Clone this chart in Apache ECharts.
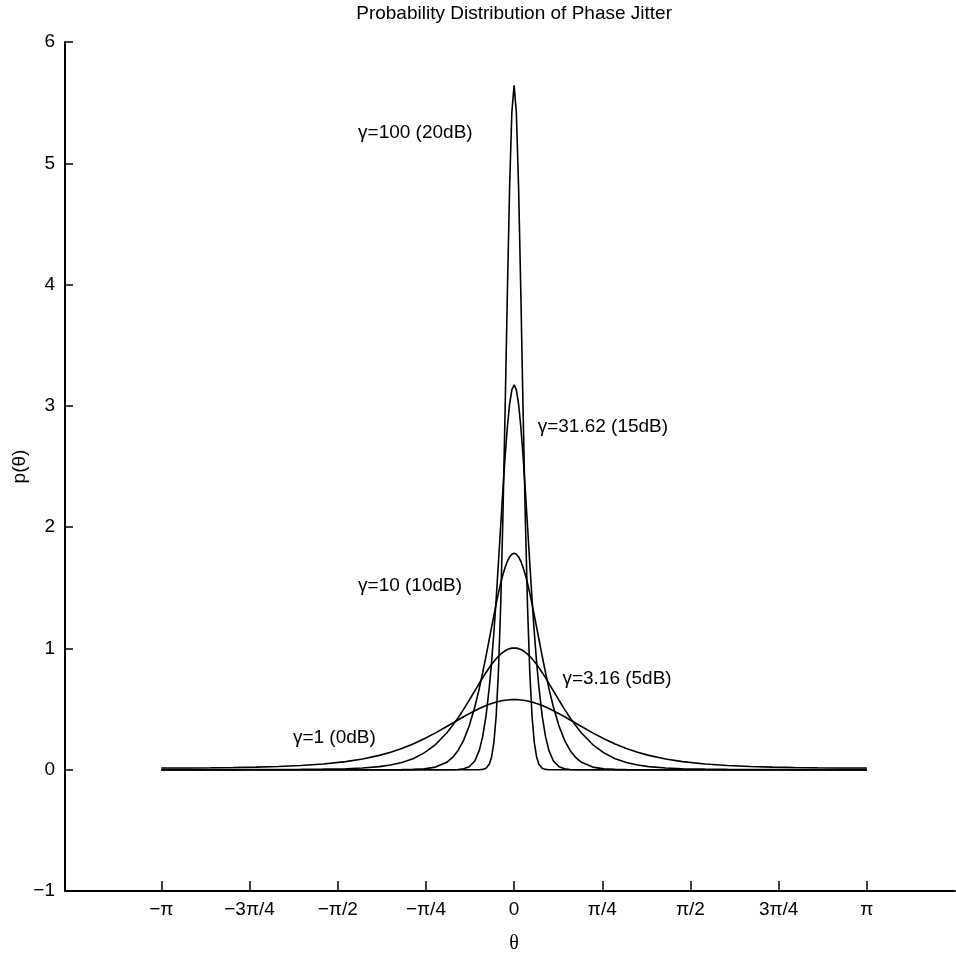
<!DOCTYPE html>
<html>
<head>
<meta charset="utf-8">
<script src="https://cdn.jsdelivr.net/npm/echarts@6/dist/echarts.min.js"></script>
<style>
html,body{margin:0;padding:0;background:#fff;}
#chart{width:956px;height:959px;}
</style>
</head>
<body>
<div id="chart"></div>
<script>
// ---- Data ----
const theta = [-3.1416,-2.9,-2.7,-2.5,-2.3,-2.1,-1.9,-1.7,-1.5,-1.35,-1.2,-1.1,-1.0,-0.9,-0.8,-0.7,-0.6,-0.55,-0.5,-0.45,-0.4,-0.35,-0.31,-0.28,-0.25,-0.22,-0.2,-0.18,-0.16,-0.14,-0.12,-0.1,-0.08,-0.06,-0.04,-0.02,
  0,
  0.02,0.04,0.06,0.08,0.1,0.12,0.14,0.16,0.18,0.2,0.22,0.25,0.28,0.31,0.35,0.4,0.45,0.5,0.55,0.6,0.7,0.8,0.9,1.0,1.1,1.2,1.35,1.5,1.7,1.9,2.1,2.3,2.5,2.7,2.9,3.1416];

const p_gamma1 = [0.0142,0.0147,0.0158,0.0179,0.0213,0.0264,0.0344,0.0469,0.0665,0.0882,0.1182,0.1441,0.1753,0.2124,0.2554,0.3037,0.3559,0.3828,0.4098,0.4363,0.4621,0.4864,0.5045,0.5173,0.5289,0.5396,0.5461,0.5520,0.5574,0.5622,0.5665,0.5701,0.5730,0.5754,0.5770,0.5780,
  0.5784,
  0.5780,0.5770,0.5754,0.5730,0.5701,0.5665,0.5622,0.5574,0.5520,0.5461,0.5396,0.5289,0.5173,0.5045,0.4864,0.4621,0.4363,0.4098,0.3828,0.3559,0.3037,0.2554,0.2124,0.1753,0.1441,0.1182,0.0882,0.0665,0.0469,0.0344,0.0264,0.0213,0.0179,0.0158,0.0147,0.0142];

const p_gamma3 = [0.0008,0.0008,0.0009,0.0011,0.0013,0.0018,0.0028,0.0046,0.0085,0.0144,0.0258,0.0390,0.0595,0.0910,0.1386,0.2077,0.3032,0.3615,0.4267,0.4975,0.5730,0.6506,0.7126,0.7584,0.8018,0.8432,0.8687,0.8925,0.9148,0.9349,0.9528,0.9681,0.9808,0.9909,0.9982,1.0026,
  1.0040,
  1.0026,0.9982,0.9909,0.9808,0.9681,0.9528,0.9349,0.9148,0.8925,0.8687,0.8432,0.8018,0.7584,0.7126,0.6506,0.5730,0.4975,0.4267,0.3615,0.3032,0.2077,0.1386,0.0910,0.0595,0.0390,0.0258,0.0144,0.0085,0.0046,0.0028,0.0018,0.0013,0.0011,0.0009,0.0008,0.0008];

const p_gamma10 = [0,0,0,0,0,0,0,0,0,0,0,0,0.0008,0.0024,0.0072,0.0215,0.0607,0.099,0.157,0.242,0.361,0.517,0.670,0.800,0.937,1.082,1.178,1.273,1.366,1.454,1.535,1.607,1.668,1.718,1.754,1.777,
  1.784,
  1.777,1.754,1.718,1.668,1.607,1.535,1.454,1.366,1.273,1.178,1.082,0.937,0.800,0.670,0.517,0.361,0.242,0.157,0.099,0.0607,0.0215,0.0072,0.0024,0.0008,0,0,0,0,0,0,0,0,0,0,0,0];

const p_gamma31 = [0,0,0,0,0,0,0,0,0,0,0,0,0,0,0,0,0,0,0.002,0.0072,0.0242,0.0723,0.159,0.273,0.444,0.688,0.893,1.130,1.403,1.697,2.003,2.303,2.583,2.826,3.014,3.132,
  3.173,
  3.132,3.014,2.826,2.583,2.303,2.003,1.697,1.403,1.130,0.893,0.688,0.444,0.273,0.159,0.0723,0.0242,0.0072,0.002,0,0,0,0,0,0,0,0,0,0,0,0,0,0,0,0,0,0,0];

const p_gamma100 = [0,0,0,0,0,0,0,0,0,0,0,0,0,0,0,0,0,0,0,0,0,0,0,0.0026,0.012,0.047,0.107,0.224,0.439,0.797,1.338,2.071,2.966,3.929,4.804,5.420,
  5.642,
  5.420,4.804,3.929,2.966,2.071,1.338,0.797,0.439,0.224,0.107,0.047,0.012,0.0026,0,0,0,0,0,0,0,0,0,0,0,0,0,0,0,0,0,0,0,0,0,0,0];

const seriesNames = ['γ=1 (0dB)','γ=3.16 (5dB)','γ=10 (10dB)','γ=31.62 (15dB)','γ=100 (20dB)'];
const seriesValues = [p_gamma1, p_gamma3, p_gamma10, p_gamma31, p_gamma100];

const xTickValues = [-Math.PI, -3*Math.PI/4, -Math.PI/2, -Math.PI/4, 0, Math.PI/4, Math.PI/2, 3*Math.PI/4, Math.PI];
const xTickLabels = ['−π','−3π/4','−π/2','−π/4','0','π/4','π/2','3π/4','π'];

// label anchors (data coordinates, left-middle of each text)
const labelAnchors = [[-1.97,0.26],[0.43,0.75],[-1.39,1.52],[0.21,2.83],[-1.39,5.25]];

const titleText = 'Probability Distribution of Phase Jitter';
const xName = 'θ';
const yName = 'p(θ)';

// ---- Chart ----
const FONT = '"Liberation Sans", Arial, Helvetica, sans-serif';
const chart = echarts.init(document.getElementById('chart'), null, {renderer:'canvas'});

const option = {
  backgroundColor: '#fff',
  animation: false,
  grid: {left: 65, right: 1, top: 42, bottom: 68, containLabel: false},
  xAxis: {
    type: 'value', min: -4, max: 5*Math.PI/4,
    axisLine: {show: true, onZero: false, lineStyle: {color: '#000', width: 2}},
    axisTick: {show: true, inside: true, length: 10, customValues: xTickValues, lineStyle: {color: '#000', width: 1.5}},
    axisLabel: {show: true, customValues: xTickValues, margin: 9, color: '#000', fontSize: 19, fontFamily: FONT,
      formatter: function (v) {
        const i = xTickValues.findIndex(t => Math.abs(t - v) < 1e-6);
        return i >= 0 ? xTickLabels[i] : '';
      }},
    splitLine: {show: false}
  },
  yAxis: {
    type: 'value', min: -1, max: 6, interval: 1,
    axisLine: {show: true, onZero: false, lineStyle: {color: '#000', width: 2}},
    axisTick: {show: true, inside: true, length: 8, lineStyle: {color: '#000', width: 1.5}},
    axisLabel: {margin: 10, color: '#000', fontSize: 19, fontFamily: FONT,
      formatter: v => String(v).replace('-', '−')},
    splitLine: {show: false}
  },
  series: seriesValues.map((vals, k) => ({
    name: seriesNames[k],
    type: 'line',
    showSymbol: false,
    symbol: 'none',
    smooth: false,
    lineStyle: {color: '#000', width: 1.6},
    data: theta.map((t, i) => [t, vals[i]])
  }))
};
chart.setOption(option);

const cx = chart.convertToPixel({gridIndex: 0}, [0, 0])[0];
const yMid = chart.convertToPixel({gridIndex: 0}, [0, 2.5])[1];
const xAxisY = chart.convertToPixel({gridIndex: 0}, [0, -1])[1];
const graphics = [
  {type: 'text', x: cx, y: 14, style: {text: titleText, fill: '#000', font: '19px ' + FONT, textAlign: 'center', textVerticalAlign: 'middle'}},
  {type: 'text', x: cx, y: xAxisY + 53, style: {text: xName, fill: '#000', font: '20px "Liberation Serif", "Times New Roman", serif', textAlign: 'center', textVerticalAlign: 'middle'}},
  {type: 'text', x: 20, y: yMid, rotation: Math.PI/2, style: {text: yName, fill: '#000', font: '19px ' + FONT, textAlign: 'center', textVerticalAlign: 'middle'}}
];
labelAnchors.forEach((a, k) => {
  const p = chart.convertToPixel({gridIndex: 0}, a);
  graphics.push({type: 'text', x: p[0], y: p[1], style: {text: seriesNames[k], fill: '#000', font: '19px ' + FONT, textAlign: 'left', textVerticalAlign: 'middle'}});
});
chart.setOption({graphic: graphics});
</script>
</body>
</html>
